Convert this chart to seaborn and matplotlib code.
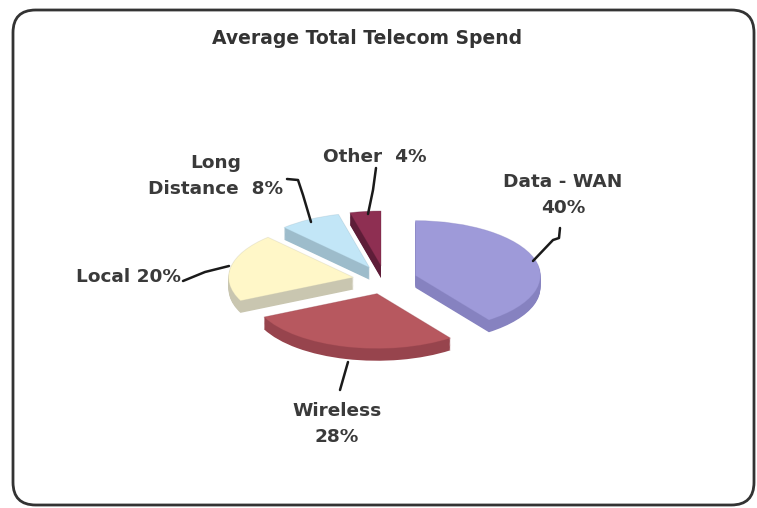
import matplotlib
matplotlib.use("Agg")
import matplotlib.pyplot as plt
import seaborn as sns
from matplotlib.patches import FancyBboxPatch
import matplotlib.colors as mcolors

sns.set_theme(style="white")
plt.rcParams['font.family'] = ['DejaVu Sans']

# ---- data ----
categories = ["Data - WAN", "Wireless", "Local", "Long Distance", "Other"]
values = [40, 28, 20, 8, 4]
label_texts = ["Data - WAN\n40%", "Wireless\n28%", "Local 20%", "Long\nDistance  8%", "Other  4%"]
top_colors = ["#9e9ad9", "#b7585f", "#fff7c8", "#c2e6f7", "#8e2f52"]
side_colors = ["#8682c0", "#97444d", "#c9c6b0", "#9dbccb", "#5e1d38"]
title = "Average Total Telecom Spend"

W, H = 757, 508
CX, CY = 385, 280      # pie centre in pixels
RX, RY = 125, 55       # radius in pixels (x, y)

def px(x, y):
    return ((x - CX) / RX, (CY - y) / RY)

fig = plt.figure(figsize=(W / 100, H / 100), dpi=100)
fig.patch.set_facecolor("white")
ax = fig.add_axes([0, 0, 1, 1])

explode = [0.256] * len(values)
depth = 0.22
nlayers = 14
for i in range(nlayers, 0, -1):
    d = depth * i / nlayers
    ax.pie(values, colors=side_colors, startangle=90, counterclock=False,
           explode=explode, center=(0, -d), radius=1,
           wedgeprops=dict(linewidth=0))
ax.pie(values, colors=top_colors, startangle=90, counterclock=False,
       explode=explode, center=(0, 0), radius=1,
       wedgeprops=dict(linewidth=0.6))
for w, c in zip(ax.patches[-len(values):], side_colors):
    w.set_edgecolor(mcolors.to_rgba(c, 0.35))

ax.set_aspect("auto")
ax.set_xlim(-CX / RX, (W - CX) / RX)
ax.set_ylim((CY - H) / RY, CY / RY)
ax.axis("off")

# labels with leader lines
label_pos = [(563, 195), (337, 424), (128, 277), (216, 176), (375, 157)]
leader = [
    [(533, 261), (553, 240), (559, 238), (560, 228)],
    [(348, 362), (344, 376), (340, 390)],
    [(183, 281), (205, 272), (229, 266)],
    [(287, 179), (298, 180), (303, 195), (311, 222)],
    [(376, 168), (373, 190), (368, 214)],
]
for txt, pos in zip(label_texts, label_pos):
    ax.text(*px(*pos), txt, ha="center", va="center", fontsize=13.3,
            fontweight="bold", color="#3a3a3a", linespacing=1.6)
for pts in leader:
    xs, ys = zip(*[px(*p) for p in pts])
    ax.plot(xs, ys, color="#1a1a1a", lw=1.8, solid_capstyle="round")

fig.text(367 / W, 1 - 38 / H, title, ha="center", va="center",
         fontsize=13.5, fontweight="bold", color="#333333")

frame = FancyBboxPatch((13 / W, 3 / H), 741 / W, 495 / H,
                       boxstyle="round,pad=0,rounding_size=0.03",
                       transform=fig.transFigure, fill=False,
                       edgecolor="#333333", linewidth=2.0,
                       mutation_aspect=W / H)
fig.patches.append(frame)

fig.savefig("out.png", dpi=100, facecolor="white")
